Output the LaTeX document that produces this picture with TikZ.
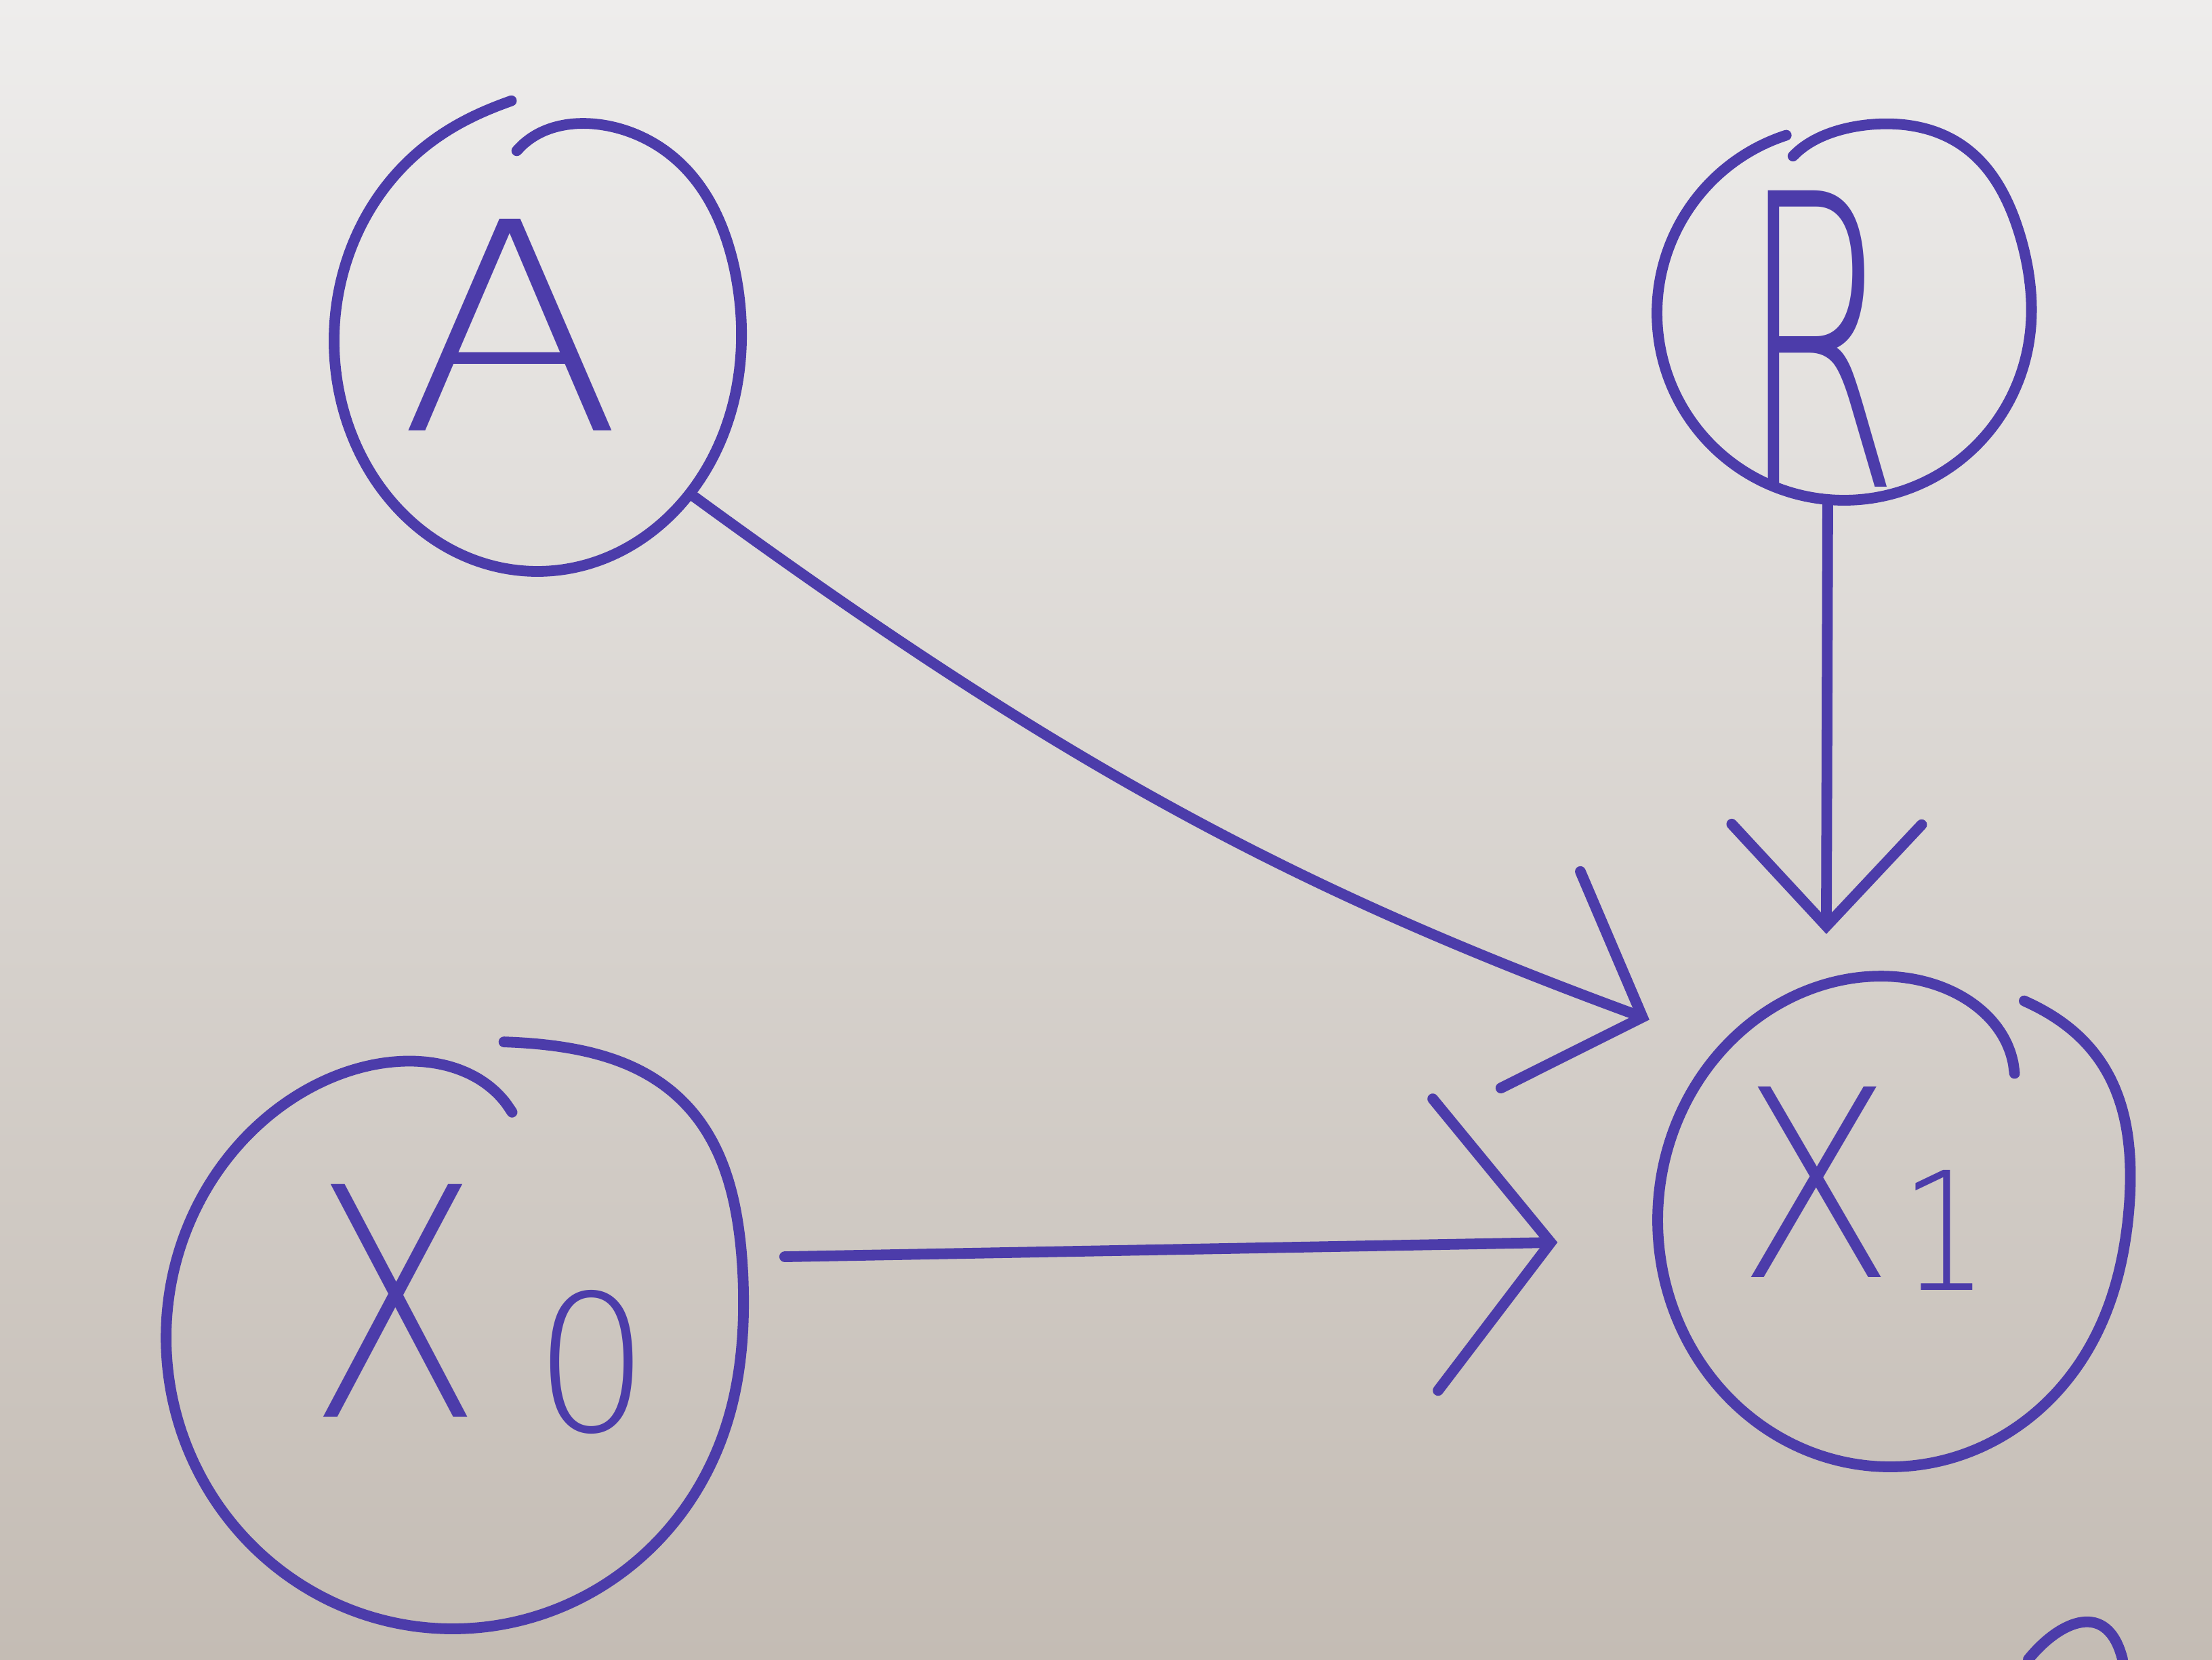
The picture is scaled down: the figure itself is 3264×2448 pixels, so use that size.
\documentclass[tikz,border=0pt]{standalone}
\usepackage{fontspec}
\IfFontExistsTF{DejaVu Sans ExtraLight}
  {\newfontfamily\handfont{DejaVu Sans ExtraLight}}
  {\newfontfamily\handfont{Liberation Sans}}
\usetikzlibrary{arrows.meta,shapes.geometric}
\definecolor{ink}{RGB}{76,60,170}
\definecolor{papertop}{RGB}{238,237,236}
\definecolor{paperbot}{RGB}{196,188,180}
\begin{document}
\begin{tikzpicture}[x=0.01cm,y=-0.01cm,
  declare function={hf(\hT,\hA,\hB,\hC,\hD,\hE,\hF)=1+\hB*exp(-min((\hA-\hT)/15,15))+\hD*exp(-min((\hT-\hC)/15,15))+\hF*exp(-min(((\hT-\hE)/28)^2,15));},
  circ/.style={draw=none, ellipse, inner sep=0pt},
  lbl/.style={inner sep=0pt, text=ink, font=\handfont},
  conn/.style={draw=ink, line width=4.5pt, line cap=round},
  penmark/.style={draw=ink, line width=4.5pt, line cap=round, line join=round}
]
\shade[top color=papertop, bottom color=paperbot] (0,0) rectangle (3264,2448);
\useasboundingbox (0,0) rectangle (3264,2448);

% circle nodes (outlines drawn by hand below)
\node[circ, minimum width=6cm, minimum height=6.8cm] (A) at (793,503) {};
\node[circ, minimum width=5.5cm, minimum height=5.5cm] (R) at (2721,462) {};
\node[circ, minimum width=8.5cm, minimum height=8.6cm] (X0) at (668,1973) {};
\node[circ, minimum width=6.9cm, minimum height=7.3cm] (X1) at (2789,1800) {};

% hand-drawn open loops
\draw[penmark] plot[domain=97:-263, samples=160, smooth, variable=\hT]
  ({793+300*hf(\hT,97,-0.17,-263,0.05,45,0.05)*cos(\hT)},
   {503-340*hf(\hT,97,-0.17,-263,0.05,45,0.05)*sin(\hT)});
\draw[penmark] plot[domain=108:-252, samples=160, smooth, variable=\hT]
  ({2721+276*hf(\hT,108,-0.12,-252,0,55,0.1)*cos(\hT)},
   {462-276*hf(\hT,108,-0.12,-252,0,55,0.1)*sin(\hT)});
\draw[penmark] plot[domain=80:-285, samples=160, smooth, variable=\hT]
  ({668+423*hf(\hT,80,0,-285,-0.2,45,0.14)*cos(\hT)},
   {1973-430*hf(\hT,80,0,-285,-0.2,45,0.14)*sin(\hT)});
\draw[penmark] plot[domain=57:-312, samples=160, smooth, variable=\hT]
  ({2789+343*hf(\hT,57,0,-312,-0.2,35,0.11)*cos(\hT)},
   {1800-364*hf(\hT,57,0,-312,-0.2,35,0.11)*sin(\hT)});

% labels
\node[lbl] (Atxt) at (754,479) {\resizebox{3.3cm}{3.12cm}{A}};
\node[lbl] (Rtxt) at (2685,500) {\resizebox{2.35cm}{4.37cm}{R}};
\node[lbl] (X0txt) at (583,1919) {\resizebox{2.55cm}{3.43cm}{X}};
\node[lbl] (X0sub) at (874,2009) {\resizebox{1.7cm}{2.08cm}{0}};
\node[lbl] (X1txt) at (2680,1744) {\resizebox{2.3cm}{2.81cm}{X}};
\node[lbl] (X1sub) at (2870,1815) {\resizebox{1.3cm}{1.77cm}{1}};

% connectors
\draw[conn, -{Straight Barb[length=1.6cm,width=3.4cm,line cap=round]}, shorten >=1.15cm]
  (A.-45) to[bend right=8] (X1.134);
\draw[conn, -{Straight Barb[length=1.5cm,width=2.8cm,line cap=round]}, shorten >=0.7cm]
  (R.-95) -- (X1.105);
\draw[conn, -{Straight Barb[length=1.7cm,width=4.3cm,line cap=round]}, shorten <=0.8cm, shorten >=1.46cm]
  (X0.16) -- (X1.185);

\draw[penmark] (2993,2448) .. controls (3040,2390) and (3110,2360) .. (3132,2448);
\end{tikzpicture}
\end{document}
